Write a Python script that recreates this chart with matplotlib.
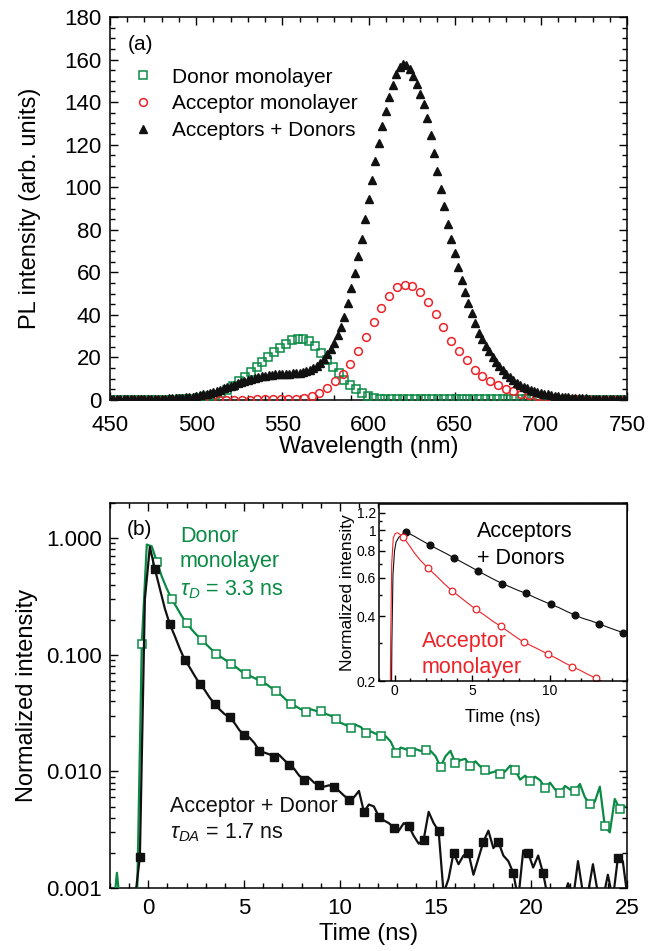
"""
Two-panel photoluminescence figure:
  (a) steady-state PL spectra of donor / acceptor monolayers and the mixed film
  (b) time-resolved PL decays on a log scale, with an inset for the acceptor emission
"""

import matplotlib
matplotlib.use("Agg")  # no display, write straight to file
import matplotlib.pyplot as plt
from matplotlib.ticker import MultipleLocator, FixedLocator, FuncFormatter, NullFormatter
import numpy as np


# ---------------- panel (a): PL spectra ----------------

# Acceptors + Donors, sampled every 2 nm from 450 to 750 nm
wl_mix = np.arange(450, 751, 2)
pl_mix = [
    0.5, 0.5, 0.5, 0.5, 0.5, 0.5, 0.5, 0.5, 0.5, 0.5,
    0.6, 0.6, 0.6, 0.6, 0.7, 0.7, 0.7, 0.8, 0.8, 0.9, 0.9,
    1.0, 1.2, 1.4, 1.6, 1.9, 2.2, 2.6, 3.0, 3.4, 3.9,
    4.4, 4.9, 5.5, 6.0, 6.6, 7.2, 7.8, 8.4, 9.0, 9.5,
    10.0, 10.4, 10.8, 11.1, 11.4, 11.6, 11.8, 12.0, 12.1, 12.2,
    12.3, 12.4, 12.5, 12.7, 12.9, 13.2, 13.7, 14.3, 15.1, 16.2,
    17.6, 19.3, 21.4, 24.0, 27.0, 30.5, 34.5, 38.8,
    45.5, 52.8, 59.7, 67.5, 75.8, 85.0, 94.5, 103.3, 112.3, 121.0,
    129.0, 136.0, 142.5, 148.2, 153.2, 156.3, 158.0, 157.5, 155.6, 152.5,
    148.3, 144.0, 139.0, 132.5, 124.5, 116.0, 107.5, 99.4, 91.3, 82.7,
    75.9, 68.9, 62.6, 56.3, 50.6, 45.7, 40.7, 36.4, 31.7, 28.5,
    25.5, 22.8, 20.3, 18.0, 16.0, 14.0, 12.3, 10.8, 9.4, 8.2,
    7.2, 6.3, 5.5, 4.8, 4.2, 3.7, 3.3, 2.9, 2.6, 2.3,
    2.0, 1.8, 1.6, 1.4, 1.25, 1.1, 1.0, 0.9, 0.8, 0.72,
    0.65, 0.6, 0.55, 0.5, 0.45, 0.42, 0.4, 0.38, 0.35, 0.33,
    0.3, 0.3,
]

# Acceptor monolayer, every 4.5 nm
wl_acc = np.arange(450, 750, 4.5)
pl_acc = [
    0.0, 0.0, 0.0, 0.0, 0.0, 0.0, 0.0, 0.0, 0.0, 0.0, 0.0, 0.0, 0.0,
    0.05, 0.1, 0.1, 0.15, 0.2, 0.2, 0.25, 0.3, 0.3, 0.35, 0.4, 0.5,
    1.0, 1.8, 3.4, 5.7, 8.8, 12.3, 16.8, 22.8, 29.8, 36.8,
    43.1, 48.8, 53.0, 54.1, 53.4, 50.8, 46.2, 40.5, 34.3, 27.7,
    23.0, 18.6, 14.3, 11.5, 8.8, 6.9, 5.4, 4.1, 3.0, 2.2,
    1.7, 1.3, 1.0, 0.7, 0.5, 0.3, 0.2, 0.1, 0.05, 0.0, 0.0, 0.0,
]

# Donor monolayer, every 3.4 nm
wl_don = np.arange(450, 750, 3.4)
pl_don = [
    0.2, 0.2, 0.2, 0.2, 0.2, 0.2, 0.2, 0.2, 0.2, 0.2, 0.2, 0.2,
    0.3, 0.4, 0.6, 0.8, 1.2, 1.7, 2.4, 3.4, 4.9, 6.6,
    8.8, 10.9, 13.2, 15.5, 17.8, 20.2, 22.5, 24.6, 26.5, 28.0,
    28.9, 28.8, 27.5, 25.2, 22.2, 19.0, 15.7, 12.5, 9.5, 7.0,
    5.0, 3.2, 1.8, 1.0, 0.6, 0.4, 0.3,
    0.3, 0.3, 0.3, 0.3, 0.3, 0.3, 0.3, 0.3, 0.3, 0.3,
    0.3, 0.3, 0.3, 0.3, 0.3, 0.3, 0.3, 0.3, 0.3, 0.4,
    0.4, 0.4, 0.3, 0.3, 0.3, 0.2, 0.2, 0.2, 0.2, 0.2,
    0.2, 0.2, 0.2, 0.2, 0.2, 0.2, 0.2, 0.2, 0.2, 0.2,
]

# ---------------- panel (b): PL decays ----------------

# Acceptor + Donor decay, 0.26 ns bins starting at -2 ns
t_ad = np.arange(105) * 0.26 - 2.0
decay_ad = [
    0.0008, 0.0008, 0.0008, 0.0008, 0.0008, 0.0008, 0.00186, 0.30, 0.84, 0.545,
    0.37, 0.25, 0.183, 0.145, 0.113, 0.0906, 0.078, 0.066, 0.0564, 0.050,
    0.043, 0.038, 0.034, 0.031, 0.0292, 0.026, 0.0225, 0.0206, 0.0195, 0.0175,
    0.0150, 0.0145, 0.0140, 0.0134, 0.0138, 0.0125, 0.0114, 0.0105, 0.0092, 0.0085,
    0.0088, 0.0080, 0.0077, 0.0074, 0.0076, 0.0073, 0.0068, 0.0062, 0.0057, 0.0060,
    0.0068, 0.0045, 0.0052, 0.0050, 0.0041, 0.0038, 0.0036, 0.0033, 0.0031, 0.0036,
    0.0034, 0.0028, 0.0024, 0.0026, 0.0045, 0.0036, 0.0031, 0.0009, 0.0012, 0.0020,
    0.0016, 0.0019, 0.0020, 0.0013, 0.0018, 0.0025, 0.0031, 0.0022, 0.0025, 0.0019,
    0.0017, 0.00135, 0.0008, 0.0021, 0.0020, 0.0015, 0.0019, 0.00134, 0.0008, 0.0008,
    0.0008, 0.0008, 0.0011, 0.0008, 0.0017, 0.0009, 0.0009, 0.0016, 0.0009, 0.0008,
    0.0013, 0.0008, 0.0018, 0.0017, 0.0008,
]

# Donor monolayer decay, 0.26 ns bins starting at -1.9 ns
t_don = np.arange(104) * 0.26 - 1.9
decay_don = [
    0.0005, 0.00135, 0.0005, 0.0005, 0.0005, 0.0006, 0.124, 0.88, 0.85, 0.63,
    0.47, 0.37, 0.30, 0.255, 0.215, 0.187, 0.165, 0.148, 0.135, 0.122,
    0.111, 0.102, 0.095, 0.089, 0.083, 0.078, 0.072, 0.068, 0.065, 0.062,
    0.059, 0.056, 0.052, 0.049, 0.045, 0.041, 0.038, 0.036, 0.034, 0.0326,
    0.034, 0.033, 0.033, 0.031, 0.030, 0.0283, 0.026, 0.025, 0.0235, 0.025,
    0.024, 0.0213, 0.022, 0.021, 0.0202, 0.020, 0.018, 0.0145, 0.016, 0.0155,
    0.0148, 0.0155, 0.015, 0.0153, 0.015, 0.0135, 0.0109, 0.0135, 0.0150, 0.0117,
    0.0125, 0.0128, 0.0111, 0.0122, 0.0110, 0.0102, 0.0097, 0.0100, 0.0095, 0.0100,
    0.0112, 0.0103, 0.0085, 0.0092, 0.0082, 0.0090, 0.0084, 0.0072, 0.0080, 0.0070,
    0.0065, 0.0075, 0.0070, 0.0068, 0.0078, 0.0060, 0.0053, 0.0055, 0.0074, 0.0034,
    0.0030, 0.0058, 0.0048, 0.0050,
]

# inset: acceptor emission, Acceptors + Donors
t_in_ad = [-1.0, -0.22, -0.17, -0.1, 0.0, 0.1, 0.3, 0.5, 0.71, 1.23,
           1.75, 2.27, 2.79, 3.31, 3.83, 4.35, 4.87, 5.39, 5.91, 6.43,
           6.95, 7.47, 7.99, 8.51, 9.03, 9.55, 10.07, 10.59, 11.11, 11.63,
           12.15, 12.67, 13.19, 13.71, 14.23, 14.75, 15.27]
in_ad = [0.1, 0.1, 0.3, 0.62, 0.80, 0.88, 0.93, 0.955, 0.982, 0.94,
         0.895, 0.853, 0.815, 0.78, 0.744, 0.71, 0.678, 0.646, 0.617, 0.59,
         0.565, 0.545, 0.525, 0.509, 0.488, 0.47, 0.453, 0.438, 0.42, 0.404,
         0.39, 0.38, 0.368, 0.356, 0.345, 0.335, 0.325]
mark_in_ad = [8, 11, 14, 17, 20, 23, 26, 29, 32, 35]

# inset: acceptor monolayer
t_in_acc = [-1.0, -0.3, -0.25, -0.18, -0.08, 0.05, 0.2, 0.35, 0.55, 0.9,
            1.3, 1.7, 2.16, 2.68, 3.2, 3.7, 4.22, 4.74, 5.26, 5.78,
            6.3, 6.84, 7.36, 7.88, 8.36, 8.88, 9.4, 9.92, 10.44, 10.96,
            11.47, 11.99, 12.51, 13.03, 13.55, 14.07, 14.59, 15.2]
in_acc = [0.1, 0.1, 0.3, 0.7, 0.92, 0.965, 0.972, 0.955, 0.929, 0.86,
          0.78, 0.72, 0.667, 0.615, 0.565, 0.524, 0.49, 0.458, 0.429, 0.405,
          0.38, 0.359, 0.338, 0.318, 0.302, 0.29, 0.278, 0.266, 0.255, 0.243,
          0.233, 0.224, 0.214, 0.2055, 0.196, 0.188, 0.18, 0.172]
mark_in_acc = [8, 12, 15, 18, 21, 24, 27, 30, 33, 36]

GREEN = "#0a8a44"
RED = "#ee2228"
BLACK = "#111111"

NOTE_SIZE = 15.5   # in-plot annotations
LABEL_SIZE = 17    # axis titles
TICK_SIZE = 16


def setup_style():
    plt.rcParams["font.family"] = ["Liberation Sans", "DejaVu Sans"]
    plt.rcParams["mathtext.fontset"] = "custom"
    plt.rcParams["mathtext.rm"] = "Liberation Sans"
    plt.rcParams["mathtext.it"] = "Liberation Sans:italic"
    plt.rcParams["axes.linewidth"] = 1.1
    plt.rcParams["axes.unicode_minus"] = False


def style_ticks(ax, size=TICK_SIZE, major=6, minor=3.5, **kw):
    ax.tick_params(which="both", direction="in", width=1.0, labelsize=size, **kw)
    ax.tick_params(which="major", length=major)
    ax.tick_params(which="minor", length=minor)


def plot_spectra(ax):
    ax.plot(wl_don, pl_don, ls="none", marker="s", ms=5.2, mfc="none", mec=GREEN,
            mew=1.1, label="Donor monolayer", zorder=3)
    ax.plot(wl_acc, pl_acc, ls="none", marker="o", ms=5.6, mfc="none", mec=RED,
            mew=1.1, label="Acceptor monolayer", zorder=3)
    ax.plot(wl_mix, pl_mix, ls="none", marker="^", ms=6.2, color=BLACK,
            label="Acceptors + Donors", zorder=4)

    ax.set_xlim(450, 750)
    ax.set_ylim(0, 180)
    ax.xaxis.set_major_locator(MultipleLocator(50))
    ax.xaxis.set_minor_locator(MultipleLocator(10))
    ax.yaxis.set_major_locator(MultipleLocator(20))
    ax.yaxis.set_minor_locator(MultipleLocator(5))
    style_ticks(ax, top=True, right=True)
    ax.tick_params(axis="x", pad=11)
    ax.tick_params(axis="y", pad=6)

    ax.set_xlabel("Wavelength (nm)", fontsize=LABEL_SIZE, labelpad=0)
    ax.set_ylabel("PL intensity (arb. units)", fontsize=LABEL_SIZE, labelpad=17)

    ax.text(0.035, 0.927, "(a)", transform=ax.transAxes, fontsize=15, va="center")
    ax.legend(loc="upper left", bbox_to_anchor=(0.043, 0.868), frameon=False,
              fontsize=15, handlelength=1.0, handletextpad=0.9,
              labelspacing=0.37, borderpad=0, borderaxespad=0)


def plot_decays(ax):
    ax.set_yscale("log")
    ax.plot(t_don, decay_don, color=GREEN, lw=1.6, marker="s", ms=5.3,
            mfc="white", mec=GREEN, mew=1.1, markevery=slice(6, None, 3), zorder=3)
    ax.plot(t_ad, decay_ad, color=BLACK, lw=1.6, marker="s", ms=5.3,
            mfc=BLACK, mec=BLACK, markevery=slice(6, None, 3), zorder=4)

    ax.set_xlim(-2, 25)
    ax.set_ylim(0.001, 2)
    ax.xaxis.set_major_locator(MultipleLocator(5))
    ax.xaxis.set_minor_locator(MultipleLocator(1))
    ax.yaxis.set_major_locator(FixedLocator([0.001, 0.01, 0.1, 1.0]))
    ax.yaxis.set_major_formatter(FuncFormatter(lambda v, p: f"{v:.3f}"))
    style_ticks(ax, top=True, right=True)
    ax.tick_params(axis="x", pad=7)
    ax.tick_params(axis="y", pad=6)

    ax.set_xlabel("Time (ns)", fontsize=LABEL_SIZE, labelpad=3)
    ax.set_ylabel("Normalized intensity", fontsize=LABEL_SIZE, labelpad=6)

    ax.text(0.033, 0.93, "(b)", transform=ax.transAxes, fontsize=15, va="center")
    # donor annotation
    ax.text(0.135, 0.912, "Donor", transform=ax.transAxes, fontsize=NOTE_SIZE,
            color=GREEN, va="center")
    ax.text(0.135, 0.847, "monolayer", transform=ax.transAxes, fontsize=NOTE_SIZE,
            color=GREEN, va="center")
    ax.text(0.135, 0.775, r"$\tau_D$ = 3.3 ns", transform=ax.transAxes, fontsize=NOTE_SIZE,
            color=GREEN, va="center")
    # donor + acceptor annotation
    ax.text(0.116, 0.213, "Acceptor + Donor", transform=ax.transAxes, fontsize=NOTE_SIZE,
            color=BLACK, va="center")
    ax.text(0.116, 0.143, r"$\tau_{DA}$ = 1.7 ns", transform=ax.transAxes, fontsize=NOTE_SIZE,
            color=BLACK, va="center")


def plot_inset(fig):
    ax = fig.add_axes([0.5708, 0.2839, 0.3735, 0.1861])
    ax.set_facecolor("white")
    ax.set_yscale("log")
    ax.plot(t_in_ad, in_ad, color=BLACK, lw=0.8, marker="o", ms=4.8,
            mfc=BLACK, mec=BLACK, markevery=mark_in_ad)
    ax.plot(t_in_acc, in_acc, color=RED, lw=0.8, marker="o", ms=4.8,
            mfc="white", mec=RED, mew=0.9, markevery=mark_in_acc)

    ax.set_xlim(-1, 15)
    ax.set_ylim(0.2, 1.32)
    # the 15 ns label would sit on the outer frame, so only 0/5/10 are labelled
    ax.xaxis.set_major_locator(FixedLocator([0, 5, 10]))
    ax.xaxis.set_minor_locator(MultipleLocator(1))
    ax.yaxis.set_major_locator(FixedLocator([0.2, 0.4, 0.6, 0.8, 1.0, 1.2]))
    ax.yaxis.set_major_formatter(FuncFormatter(lambda v, p: f"{v:g}"))
    ax.yaxis.set_minor_locator(FixedLocator([0.3, 0.5, 0.7, 0.9, 1.1]))
    ax.yaxis.set_minor_formatter(NullFormatter())
    style_ticks(ax, size=10, major=4, minor=2.5, pad=2)

    ax.set_xlabel("Time (ns)", fontsize=13, labelpad=8)
    ax.set_ylabel("Normalized intensity", fontsize=12.5, labelpad=1)

    ax.text(0.395, 0.842, "Acceptors", transform=ax.transAxes, fontsize=NOTE_SIZE, va="center")
    ax.text(0.395, 0.695, "+ Donors", transform=ax.transAxes, fontsize=NOTE_SIZE, va="center")
    ax.text(0.173, 0.226, "Acceptor", transform=ax.transAxes, fontsize=NOTE_SIZE,
            color=RED, va="center")
    ax.text(0.173, 0.079, "monolayer", transform=ax.transAxes, fontsize=NOTE_SIZE,
            color=RED, va="center")
    return ax


def create_figure(output_path="out.png"):
    setup_style()
    fig = plt.figure(figsize=(6.64, 9.51), dpi=100)
    ax_a = fig.add_axes([0.1657, 0.5794, 0.7786, 0.4027])
    ax_b = fig.add_axes([0.1657, 0.0662, 0.7786, 0.4049])

    plot_spectra(ax_a)
    plot_decays(ax_b)
    plot_inset(fig)

    fig.savefig(output_path, dpi=100, facecolor="white")
    plt.close(fig)


if __name__ == "__main__":
    create_figure()
